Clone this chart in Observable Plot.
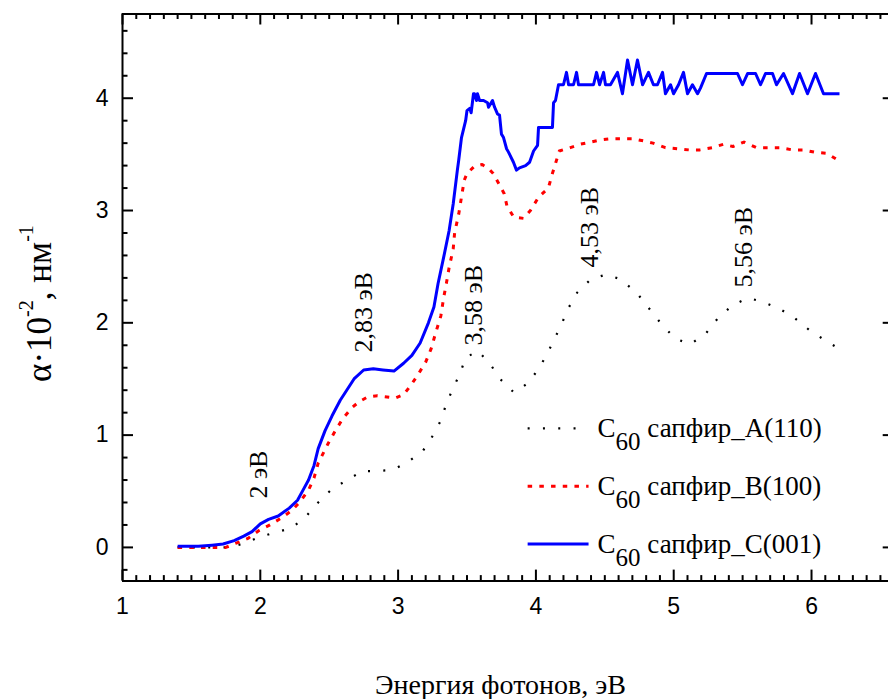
<!DOCTYPE html>
<html>
<head>
<meta charset="utf-8">
<script src="https://cdn.jsdelivr.net/npm/d3@7"></script>
<script src="https://cdn.jsdelivr.net/npm/@observablehq/plot@0.6"></script>
<style>
  html, body { margin: 0; padding: 0; background: #fff; }
  #chart svg { display: block; }
</style>
</head>
<body>
<div id="chart"></div>
<script>
// Absorption spectra of C60 films on sapphire substrates of three orientations.
// Photon energy, eV
const aEnergy = [1.40,1.44,1.55,1.66,1.77,1.88,1.99,2.10,2.22,2.32,2.42,2.52,2.63,2.74,2.85,2.96,3.07,3.18,3.26,3.31,3.35,3.40,3.45,3.49,3.58,3.67,3.74,3.84,3.94,4.02,4.08,4.14,4.19,4.24,4.30,4.40,4.51,4.61,4.73,4.82,4.91,5.01,5.12,5.23,5.32,5.43,5.54,5.64,5.76,5.87,5.98,6.09,6.20];
// alpha * 10^-2, nm^-1
const aAlpha = [0.00,0.00,0.00,0.00,0.00,0.035,0.09,0.13,0.17,0.26,0.40,0.52,0.60,0.68,0.68,0.69,0.76,0.86,1.01,1.13,1.28,1.42,1.55,1.69,1.75,1.63,1.50,1.38,1.46,1.59,1.72,1.87,2.00,2.14,2.27,2.39,2.43,2.39,2.27,2.13,1.99,1.86,1.81,1.90,2.04,2.16,2.22,2.19,2.13,2.05,1.94,1.85,1.77];

const bEnergy = [1.40,1.54,1.65,1.75,1.82,1.91,1.99,2.07,2.15,2.23,2.29,2.35,2.39,2.42,2.49,2.54,2.60,2.67,2.72,2.78,2.85,2.92,2.98,3.04,3.09,3.14,3.20,3.24,3.27,3.31,3.33,3.35,3.37,3.40,3.41,3.44,3.46,3.48,3.50,3.55,3.61,3.66,3.69,3.73,3.77,3.79,3.84,3.91,3.96,4.02,4.09,4.12,4.17,4.25,4.32,4.40,4.47,4.54,4.61,4.70,4.78,4.85,4.94,5.03,5.11,5.19,5.28,5.36,5.43,5.51,5.60,5.69,5.77,5.86,5.94,6.02,6.11,6.19];
const bAlpha = [0.00,0.00,0.00,0.00,0.035,0.08,0.15,0.20,0.26,0.33,0.41,0.51,0.62,0.75,0.92,1.03,1.15,1.25,1.30,1.34,1.35,1.34,1.33,1.36,1.44,1.53,1.65,1.77,1.90,2.06,2.22,2.35,2.49,2.66,2.80,2.97,3.12,3.27,3.33,3.39,3.41,3.37,3.33,3.24,3.15,3.04,2.94,2.93,3.00,3.12,3.20,3.33,3.53,3.56,3.59,3.61,3.63,3.64,3.64,3.64,3.62,3.60,3.56,3.55,3.54,3.54,3.56,3.59,3.57,3.61,3.56,3.56,3.56,3.54,3.54,3.52,3.51,3.45];

const cEnergy = [1.40,1.55,1.65,1.73,1.81,1.88,1.94,2.00,2.06,2.13,2.21,2.27,2.31,2.35,2.39,2.42,2.47,2.52,2.58,2.68,2.75,2.82,2.89,2.97,3.04,3.10,3.16,3.22,3.26,3.29,3.33,3.37,3.40,3.43,3.44,3.46,3.49,3.50,3.52,3.53,3.547,3.554,3.569,3.576,3.591,3.62,3.649,3.656,3.685,3.70,3.721,3.736,3.75,3.765,3.787,3.801,3.837,3.859,3.881,3.925,3.954,3.983,4.012,4.019,4.12,4.128,4.142,4.164,4.20,4.222,4.237,4.273,4.295,4.309,4.418,4.44,4.462,4.491,4.505,4.541,4.592,4.628,4.665,4.701,4.737,4.774,4.817,4.853,4.882,4.919,4.94,4.977,4.999,5.035,5.071,5.10,5.136,5.173,5.194,5.238,5.463,5.499,5.536,5.594,5.63,5.666,5.717,5.746,5.797,5.862,5.913,5.971,6.029,6.087,6.203];
const cAlpha = [0.01,0.01,0.02,0.03,0.06,0.10,0.14,0.21,0.25,0.28,0.35,0.42,0.51,0.60,0.73,0.88,1.04,1.17,1.31,1.50,1.58,1.59,1.58,1.57,1.64,1.71,1.82,2.00,2.14,2.35,2.58,2.82,3.06,3.36,3.45,3.65,3.80,3.89,3.91,3.87,4.04,4.04,3.98,4.04,3.98,3.98,3.96,3.92,3.98,3.92,3.86,3.85,3.68,3.65,3.55,3.52,3.43,3.36,3.38,3.40,3.43,3.53,3.58,3.74,3.74,3.96,3.98,4.12,4.12,4.23,4.12,4.12,4.23,4.12,4.12,4.23,4.12,4.23,4.12,4.12,4.23,4.04,4.34,4.12,4.34,4.12,4.23,4.12,4.12,4.23,4.04,4.12,4.04,4.12,4.23,4.04,4.12,4.04,4.09,4.22,4.22,4.12,4.22,4.22,4.12,4.22,4.22,4.12,4.22,4.04,4.22,4.04,4.22,4.04,4.04];

const seriesNames = ["C<sub>60</sub> сапфир_A(110)", "C<sub>60</sub> сапфир_B(100)", "C<sub>60</sub> сапфир_C(001)"];

// Absorption band maxima, eV
const peakEnergy = [2, 2.83, 3.58, 4.53, 5.56];
const peakLabels = peakEnergy.map(v => `${String(v).replace(".", ",")} эВ`);

const xTicks = [1, 2, 3, 4, 5, 6];
const yTicks = [0, 1, 2, 3, 4];
const xTitle = "Энергия фотонов, эВ";
const yTitle = "α·10<sup>-2</sup>, нм<sup>-1</sup>";

// ---- layout ----
const W = 888, H = 699;
const xDomain = [1, 6.6], xRange = [122, 893.7];
const yDomain = [-0.3, 4.75], yRange = [580.6, 13.5];
const kx = (xRange[1] - xRange[0]) / (xDomain[1] - xDomain[0]); // px per eV
const ky = (yRange[0] - yRange[1]) / (yDomain[1] - yDomain[0]); // px per unit
const majorLen = 11, minorLen = 5.5;
const xMinor = d3.range(11, 66).map(i => i / 10).filter(v => !xTicks.includes(v));
const yMinor = d3.range(-1, 24).map(i => i / 5).filter(v => Math.abs(v - Math.round(v)) > 1e-9);

const styles = [
  {stroke: "#000000", strokeWidth: 2.2, strokeDasharray: "2 13.3"},
  {stroke: "#ff0000", strokeWidth: 3, strokeDasharray: "4.5 7.2"},
  {stroke: "#0000ff", strokeWidth: 3}
];
const series = [[aEnergy, aAlpha], [bEnergy, bAlpha], [cEnergy, cAlpha]]
  .map(([e, a]) => e.map((x, i) => ({x, y: a[i]})));

// legend placement (data units)
const legendX = [3.94, 4.382];
const legendY = [1.06, 0.545, 0.03];

// peak label placement: small horizontal nudges and baseline heights (data units)
const peakNudge = [-0.013, -0.08, -0.033, -0.14, -0.053];
const peakBase = [0.435, 1.735, 1.798, 2.493, 2.315];

const serif = "Liberation Serif";
const sans = "Liberation Sans";

const marks = [];

// frame
marks.push(Plot.ruleY([yDomain[0], yDomain[1]], {y: d => d, strokeWidth: 2}));
marks.push(Plot.ruleX([xDomain[0], xDomain[1]], {x: d => d, strokeWidth: 2}));

// inward ticks, bottom and top
for (const [vals, len] of [[xTicks, majorLen], [xMinor, minorLen]]) {
  marks.push(Plot.ruleX(vals, {x: d => d, y1: yDomain[0], y2: yDomain[0] + len / ky, strokeWidth: 2}));
  marks.push(Plot.ruleX(vals, {x: d => d, y1: yDomain[1], y2: yDomain[1] - len / ky, strokeWidth: 2}));
}
// inward ticks, left (major + minor) and right (major)
marks.push(Plot.ruleY(yTicks, {y: d => d, x1: xDomain[0], x2: xDomain[0] + majorLen / kx, strokeWidth: 2}));
marks.push(Plot.ruleY(yMinor, {y: d => d, x1: xDomain[0], x2: xDomain[0] + minorLen / kx, strokeWidth: 2}));
marks.push(Plot.ruleY(yTicks, {y: d => d, x1: xDomain[1], x2: xDomain[1] - majorLen / kx, strokeWidth: 2}));

// tick labels
marks.push(Plot.axisX(xTicks, {tickSize: 0, tickPadding: 17, fontSize: 23, fontFamily: sans, label: null, tickFormat: d => String(d)}));
marks.push(Plot.axisY(yTicks, {tickSize: 0, tickPadding: 14, fontSize: 23, fontFamily: sans, label: null, tickFormat: d => String(d)}));

// spectra and legend samples
series.forEach((data, i) => {
  marks.push(Plot.line(data, {x: "x", y: "y", ...styles[i], strokeLinecap: "butt", strokeLinejoin: "round"}));
  marks.push(Plot.line(legendX.map(x => ({x, y: legendY[i]})), {x: "x", y: "y", ...styles[i], strokeLinecap: "butt"}));
});

// legend labels
marks.push(Plot.text(seriesNames, {
  x: legendX[1], y: (d, i) => legendY[i], text: d => d, dx: 9,
  textAnchor: "start", lineAnchor: "middle", fontSize: 27, fontFamily: serif, fill: "#000",
  className: "rich-legend"
}));

// peak annotations
marks.push(Plot.text(peakLabels, {
  x: (d, i) => peakEnergy[i] + peakNudge[i], y: (d, i) => peakBase[i], text: d => d,
  rotate: -90, textAnchor: "start", lineAnchor: "middle", fontSize: 26, fontFamily: serif, fill: "#000"
}));

// axis titles
marks.push(Plot.text([xTitle], {
  frameAnchor: "bottom", text: d => d, dy: 104, dx: -5, lineAnchor: "middle",
  fontSize: 28, fontFamily: serif, fill: "#000"
}));
marks.push(Plot.text([yTitle], {
  frameAnchor: "left", text: d => d, rotate: -90, dx: -83, dy: 6, textAnchor: "middle", lineAnchor: "middle",
  fontSize: 35, fontFamily: serif, fill: "#000", className: "rich-ytitle"
}));

const chart = Plot.plot({
  width: W, height: H,
  marginLeft: xRange[0], marginRight: 0, marginTop: yRange[1], marginBottom: H - yRange[0],
  x: {domain: xDomain, range: xRange, label: null},
  y: {domain: yDomain, range: yRange, label: null},
  style: {background: "#fff", color: "#000", overflow: "visible"},
  marks
});

// turn <sub>/<sup> markup into shifted tspans
function richText(root, selector, {size, sub, subShift, sup, supShift}) {
  const NS = "http://www.w3.org/2000/svg";
  root.querySelectorAll(selector).forEach(t => {
    const src = t.textContent;
    if (!/<su[bp]>/.test(src)) return;
    t.textContent = "";
    let level = 0;
    for (const part of src.split(/(<su[bp]>[^<]*<\/su[bp]>)/)) {
      if (!part) continue;
      const m = part.match(/^<(su[bp])>([^<]*)<\/su[bp]>$/);
      const ts = document.createElementNS(NS, "tspan");
      if (m) {
        const shift = m[1] === "sub" ? subShift : supShift;
        ts.setAttribute("dy", shift - level);
        ts.setAttribute("font-size", m[1] === "sub" ? sub : sup);
        ts.textContent = m[2];
        level = shift;
      } else {
        ts.setAttribute("dy", -level);
        ts.setAttribute("font-size", size);
        ts.textContent = part;
        level = 0;
      }
      t.appendChild(ts);
    }
  });
}
richText(chart, ".rich-legend text", {size: 27, sub: 25, subShift: 13, sup: 16, supShift: -12});
richText(chart, ".rich-ytitle text", {size: 35, sub: 20, subShift: 9, sup: 20, supShift: -18});

document.getElementById("chart").appendChild(chart);
</script>
</body>
</html>
